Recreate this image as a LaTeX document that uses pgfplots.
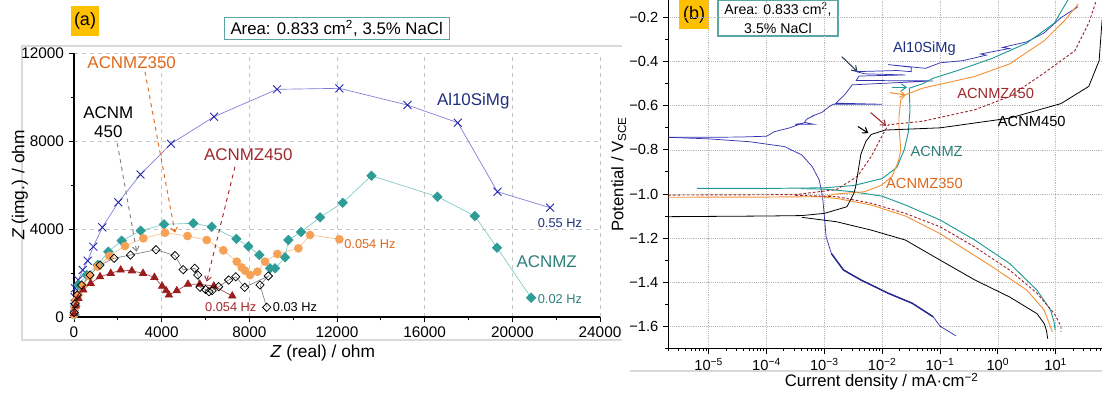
\documentclass[border=0pt]{standalone}
\usepackage{fontspec}
\setmainfont{Liberation Sans}
\usepackage{pgfplots}
\pgfplotsset{compat=1.18}
\usetikzlibrary{arrows.meta}
\definecolor{alblue}{HTML}{2424A8}
\definecolor{alline}{HTML}{7B7BD6}
\definecolor{allab}{HTML}{1E2F80}
\definecolor{tealm}{HTML}{2E9D98}
\definecolor{tealline}{HTML}{7CC9C5}
\definecolor{teallab}{HTML}{2E7F7B}
\definecolor{orm}{HTML}{F5A257}
\definecolor{orline}{HTML}{F7BF8C}
\definecolor{orlab}{HTML}{E0681A}
\definecolor{redm}{HTML}{9A1E1E}
\definecolor{redline}{HTML}{B04848}
\definecolor{redlab}{HTML}{A0282C}
\definecolor{badge}{HTML}{FFC000}
\definecolor{boxteal}{HTML}{5AA6A2}
\definecolor{bblue}{HTML}{3333B0}
\definecolor{bteal}{HTML}{1E9A94}
\definecolor{borange}{HTML}{F39237}
\definecolor{bred}{HTML}{A0282C}
\definecolor{arrowslate}{HTML}{2B3A5B}
\begin{document}
\begin{tikzpicture}
\useasboundingbox (0,0) rectangle (826.5pt,297pt);
% panel frames
\draw[gray!30, line width=0.8pt] (466.5pt,262.5pt) -- (16.5pt,262.5pt) -- (16.5pt,42pt) -- (466.5pt,42pt);
\draw[gray!30, line width=0.8pt] (472.5pt,18.75pt) -- (826.5pt,18.75pt);
% badges and boxes
\node[fill=badge, minimum width=21pt, minimum height=23pt, inner sep=0pt, font=\fontsize{13.5}{14}\selectfont] at (63.75pt,281.25pt) {(a)};
\node[fill=badge, minimum width=22.5pt, minimum height=21.75pt, inner sep=0pt, font=\fontsize{13.5}{14}\selectfont] at (520.5pt,286.1pt) {(b)};
\node[draw=boxteal, line width=0.8pt, minimum width=168.75pt, minimum height=16.5pt, inner sep=0pt, font=\fontsize{12.6}{13}\selectfont] at (252.5pt,275.8pt) {Area: 0.833 cm\textsuperscript{2}, 3.5\% NaCl};
\node[draw=boxteal, fill=white, line width=0.8pt, minimum width=90pt, minimum height=27pt, inner sep=0pt, align=center, font=\fontsize{10.6}{14}\selectfont] at (583.5pt,283.5pt) {Area: 0.833 cm\textsuperscript{2},\\3.5\% NaCl};

% ---------------- panel (a) ----------------
\begin{axis}[
  at={(55.5pt,59.25pt)}, anchor=south west, scale only axis,
  width=394.5pt, height=198pt,
  xmin=0, xmax=24000, ymin=0, ymax=12000,
  axis lines*=left, axis line style={line width=0.8pt, black},
  xtick={0,4000,8000,12000,16000,20000,24000}, ytick={0,4000,8000,12000},
  minor xtick={2000,6000,10000,14000,18000,22000}, minor ytick={2000,6000,10000},
  scaled ticks=false,
  tick align=outside, major tick length=4pt, minor tick length=2.5pt,
  tick style={black, line width=0.7pt},
  grid=major, major grid style={dashed, gray!45, line width=0.4pt},
  ticklabel style={font=\fontsize{11.5}{12}\selectfont},
  /pgf/number format/1000 sep={}, /pgf/number format/assume math mode=true,
  xlabel={\textit{Z} (real) / ohm}, ylabel={\textit{Z} (img.) / ohm},
  every axis x label/.style={at={(rel axis cs:0.473,-0.136)}, anchor=center, font=\fontsize{13}{14}\selectfont},
  every axis y label/.style={at={(rel axis cs:-0.103,0.5)}, rotate=90, anchor=center, font=\fontsize{13}{14}\selectfont},
  clip=false,
]
\addplot[color=alline, line width=0.5pt, mark=x, mark size=4.2pt, mark options={alblue, line width=0.65pt}] coordinates {
(15,450) (30,900) (46,1304) (197,1682) (395,2136) (625,2559) (882,3195) (1293,4077) (2023,5213) (3035,6480) (4427,7877) (6390,9104) (9265,10349) (12109,10394) (15213,9636) (17512,8831) (19320,5695) (21725,4968)};
\addplot[color=tealline, line width=0.5pt, mark=square*, mark size=2.5pt, mark options={rotate=45, fill=tealm, draw=tealm}] coordinates {
(20,100) (60,500) (197,1454) (578,1909) (1080,2364) (1566,2968) (2176,3468) (3043,3922) (4108,4213) (5445,4259) (6284,4100) (7410,3550) (7955,3210) (8459,2818) (8946,2212) (9174,2212) (9630,2712) (9782,3500) (10360,3863) (11227,4531) (12263,5195) (13573,6422) (16581,5468) (18288,4590) (19300,3150) (20857,877)};
\addplot[color=orline, line width=0.5pt, mark=*, mark size=3pt, mark options={fill=orm, draw=orm}] coordinates {
(5,100) (30,400) (100,750) (197,1000) (395,1409) (699,1864) (1080,2288) (1612,2772) (2328,3227) (3164,3577) (4153,3832) (5180,3682) (6056,3500) (6815,3030) (7425,2515) (7650,2250) (7804,2106) (8033,1909) (8366,2060) (8717,2515) (9278,2864) (10237,3122) (10771,3727) (12109,3531)};
\addplot[color=redline, line width=0.5pt, mark=triangle*, mark size=3.2pt, mark options={fill=redm, draw=redm}] coordinates {
(10,150) (80,500) (197,848) (425,1227) (761,1530) (1187,1832) (1676,1985) (2131,2136) (2640,2100) (3150,1985) (3670,1803) (4020,1400) (4200,1200) (4330,1000) (4690,1195) (5200,1490) (5735,1490) (6380,1409) (7220,954)};
\addplot[color=gray, line width=0.5pt, mark=square, mark size=2.2pt, mark options={rotate=45, black, fill=white, line width=0.55pt}] coordinates {
(10,200) (50,600) (150,1000) (350,1450) (730,1909) (1187,2364) (1826,2667) (2574,2818) (3740,3060) (4610,2790) (4980,2150) (5510,2212) (5650,1909) (5751,1350) (6000,1250) (6161,1150) (6300,1200) (6600,1378) (7056,1682) (7380,1832) (7787,1350) (8868,1864) (8489,1454) (8793,440)};
% labels
\node[text=orlab, font=\fontsize{12.7}{13}\selectfont] at (axis cs:2632,11558) {ACNMZ350};
\draw[orlab, dashed, line width=0.7pt, -{Straight Barb[length=3.5pt,width=5pt]}] (axis cs:3239,11149) -- (axis cs:4608,3832);
\node[align=center, font=\fontsize{12.7}{14.3}\selectfont] at (axis cs:1565,8863) {ACNM\\450};
\draw[gray, dashed, line width=0.7pt, -{Straight Barb[length=3.5pt,width=5pt]}] (axis cs:1975,7895) -- (axis cs:2860,2968);
\node[text=redlab, font=\fontsize{12.7}{13}\selectfont] at (axis cs:7952,7363) {ACNMZ450};
\draw[redlab, dashed, line width=0.7pt, -{Straight Barb[length=3.5pt,width=5pt]}] (axis cs:7345,6831) -- (axis cs:6054,1604);
\node[text=allab, font=\fontsize{12.7}{13}\selectfont] at (axis cs:18216,9831) {Al10SiMg};
\node[text=allab, font=\fontsize{9.6}{10}\selectfont] at (axis cs:22171,4259) {0.55 Hz};
\node[text=teallab, font=\fontsize{12.7}{13}\selectfont] at (axis cs:21565,2513) {ACNMZ};
\node[text=teallab, font=\fontsize{9.6}{10}\selectfont] at (axis cs:22171,804) {0.02 Hz};
\node[text=orlab, font=\fontsize{9.6}{10}\selectfont] at (axis cs:13503,3318) {0.054 Hz};
\node[text=redlab, font=\fontsize{9.6}{10}\selectfont] at (axis cs:7153,468) {0.054 Hz};
\node[font=\fontsize{9.6}{10}\selectfont] at (axis cs:10082,441) {0.03 Hz};
\end{axis}

% ---------------- panel (b) ----------------
\begin{axis}[
  at={(501.2pt,35.8pt)}, anchor=south west, scale only axis,
  width=325.3pt, height=261.2pt,
  xmode=log, xmin=2e-6, xmax=63, ymin=-1.70, ymax=-0.12,
  axis lines*=left, axis line style={line width=0.8pt, black},
  xtick={1e-5,1e-4,1e-3,1e-2,1e-1,1,10},
  xticklabels={10\textsuperscript{−5},10\textsuperscript{−4},10\textsuperscript{−3},10\textsuperscript{−2},10\textsuperscript{−1},10\textsuperscript{0},10\textsuperscript{1}},
  minor xtick={2e-6,3e-6,4e-6,5e-6,6e-6,7e-6,8e-6,9e-6,2e-5,3e-5,4e-5,5e-5,6e-5,7e-5,8e-5,9e-5,2e-4,3e-4,4e-4,5e-4,6e-4,7e-4,8e-4,9e-4,2e-3,3e-3,4e-3,5e-3,6e-3,7e-3,8e-3,9e-3,0.02,0.03,0.04,0.05,0.06,0.07,0.08,0.09,0.2,0.3,0.4,0.5,0.6,0.7,0.8,0.9,2,3,4,5,6,7,8,9,20,30,40,50,60},
  ytick={-1.6,-1.4,-1.2,-1.0,-0.8,-0.6,-0.4,-0.2},
  yticklabels={−1.6,−1.4,−1.2,−1.0,−0.8,−0.6,−0.4,−0.2},
  minor ytick={-1.7,-1.5,-1.3,-1.1,-0.9,-0.7,-0.5,-0.3},
  tick align=outside, major tick length=4pt, minor tick length=2.2pt,
  tick style={black, line width=0.7pt},
  grid=major, major grid style={densely dotted, gray!55, line width=0.5pt},
  ticklabel style={font=\fontsize{11}{12}\selectfont},
  xlabel={Current density / mA·cm\textsuperscript{−2}}, ylabel={Potential / V\textsubscript{SCE}},
  every axis x label/.style={at={(rel axis cs:0.492,-0.096)}, anchor=center, font=\fontsize{12.5}{13}\selectfont},
  every axis y label/.style={at={(rel axis cs:-0.114,0.5)}, rotate=90, anchor=center, font=\fontsize{12.5}{13}\selectfont},
]
% Al10SiMg cathodic
\addplot[color=bblue, line width=0.55pt] coordinates {
(2.0e-6,-0.743) (1e-5,-0.75) (5.1e-5,-0.763) (2.04e-4,-0.785) (4.07e-4,-0.823) (6.17e-4,-0.876) (8.13e-4,-0.936) (9.3e-4,-1.012) (1e-3,-1.103) (1.07e-3,-1.194) (1.32e-3,-1.27) (2.14e-3,-1.345) (4.27e-3,-1.39) (0.0126,-1.45) (0.0331,-1.496) (0.0759,-1.557) (0.1,-1.60) (0.186,-1.643)};
\addplot[color=bblue!80!black, line width=1.1pt] coordinates {
(1.32e-3,-1.27) (2.14e-3,-1.345) (4.27e-3,-1.39) (0.0126,-1.45) (0.0331,-1.496) (0.0759,-1.557)};
% Al10SiMg anodic
\addplot[color=bblue, line width=0.55pt] coordinates {
(2.0e-6,-0.743) (3.16e-5,-0.742) (1e-4,-0.738) (1.38e-4,-0.717) (2.51e-4,-0.70) (4.07e-4,-0.68) (3.09e-4,-0.684) (6.6e-4,-0.684) (4.5e-4,-0.675) (5.0e-4,-0.66) (7.08e-4,-0.64) (6.0e-4,-0.648) (9e-4,-0.63) (1.2e-3,-0.605) (1.41e-3,-0.593) (0.01,-0.593) (1.58e-3,-0.588) (2.24e-3,-0.55) (3.02e-3,-0.505) (0.0759,-0.487) (3.55e-3,-0.485) (3.98e-3,-0.465) (0.0251,-0.46) (5.0e-3,-0.455) (3.55e-3,-0.445) (0.0178,-0.44) (0.0316,-0.445) (0.0316,-0.425) (0.0126,-0.413) (0.0562,-0.43) (0.1,-0.405) (0.251,-0.395) (0.631,-0.37) (0.5,-0.365) (1.585,-0.34) (1.2,-0.335) (3.16,-0.31) (6.24,-0.27) (12.3,-0.20) (24.5,-0.15)};
% ACNMZ teal
\addplot[color=bteal, line width=0.7pt] coordinates {
(6.3e-6,-0.975) (1e-4,-0.975) (1e-3,-0.972) (3.16e-3,-0.962) (0.01,-0.93) (0.0178,-0.88) (0.024,-0.80) (0.0282,-0.72) (0.0302,-0.62) (0.0295,-0.55) (0.0295,-0.52) (0.0501,-0.50) (0.0759,-0.475) (0.2,-0.44) (0.794,-0.385) (3.16,-0.315) (9.44,-0.225) (16.2,-0.12)};
\addplot[color=bteal, line width=0.7pt] coordinates {
(3.98e-4,-0.976) (1e-3,-0.978) (3.16e-3,-0.99) (0.01,-1.01) (0.0251,-1.05) (0.1,-1.118) (0.398,-1.209) (1.585,-1.315) (4.73,-1.436) (8.13,-1.527) (9.33,-1.58) (9.77,-1.618)};
% ACNMZ350 orange
\addplot[color=borange, line width=0.7pt] coordinates {
(2.0e-6,-1.015) (1e-4,-1.014) (1e-3,-1.012) (1.58e-3,-1.0) (4.9e-3,-0.99) (9.8e-3,-0.96) (0.0148,-0.92) (0.0191,-0.85) (0.0209,-0.80) (0.0195,-0.70) (0.0195,-0.647) (0.0209,-0.573) (0.0251,-0.55) (0.0501,-0.52) (0.398,-0.467) (1.585,-0.41) (6.31,-0.305) (14.1,-0.214) (24.5,-0.138)};
\addplot[color=borange, line width=0.7pt] coordinates {
(1e-3,-1.015) (1.62e-3,-1.02) (6.46e-3,-1.05) (0.0251,-1.10) (0.1,-1.18) (0.794,-1.33) (3.16,-1.436) (6.31,-1.527) (8.71,-1.626)};
% ACNMZ450 red dashed
\addplot[color=bred, line width=0.7pt, dash pattern=on 2pt off 1.5pt] coordinates {
(2.0e-6,-1.005) (3.16e-4,-1.003) (1.62e-3,-0.98) (3.72e-3,-0.92) (6.46e-3,-0.83) (0.0105,-0.724) (0.0129,-0.686) (0.0501,-0.67) (0.398,-0.618) (1.585,-0.558) (6.31,-0.451) (21.4,-0.35) (37.2,-0.224) (49,-0.13)};
\addplot[color=bred, line width=0.7pt, dash pattern=on 2pt off 1.5pt] coordinates {
(3.16e-4,-1.006) (1.62e-3,-1.012) (6.46e-3,-1.042) (0.0251,-1.088) (0.1,-1.149) (0.398,-1.24) (1.585,-1.345) (4.73,-1.45) (9.44,-1.543) (12.3,-1.60) (12.3,-1.626)};
% ACNM450 black
\addplot[color=black, line width=0.6pt] coordinates {
(2.0e-6,-1.103) (1e-4,-1.10) (4.07e-4,-1.098) (1e-3,-1.088) (2.45e-3,-1.058) (3.24e-3,-0.997) (3.47e-3,-0.967) (4.27e-3,-0.82) (5.25e-3,-0.76) (6.46e-3,-0.73) (0.0112,-0.71) (0.1,-0.70) (1.585,-0.656) (12.3,-0.59) (37.2,-0.512) (56.2,-0.395) (63.1,-0.214) (70.8,-0.15)};
\addplot[color=black, line width=0.6pt] coordinates {
(4.07e-4,-1.106) (1.62e-3,-1.126) (6.46e-3,-1.164) (0.0251,-1.209) (0.1,-1.30) (0.398,-1.39) (1.585,-1.467) (4.73,-1.543) (6.31,-1.588) (6.92,-1.62) (7.24,-1.656)};
% labels
\node[text=allab, font=\fontsize{11}{12}\selectfont] at (axis cs:0.0537,-0.343) {Al10SiMg};
\node[text=redlab, font=\fontsize{11}{12}\selectfont] at (axis cs:0.912,-0.543) {ACNMZ450};
\node[font=\fontsize{11}{12}\selectfont] at (axis cs:3.85,-0.672) {ACNM450};
\node[text=teallab, font=\fontsize{11}{12}\selectfont] at (axis cs:0.0871,-0.808) {ACNMZ};
\node[text=orlab, font=\fontsize{11}{12}\selectfont] at (axis cs:0.0537,-0.951) {ACNMZ350};
\draw[arrowslate, line width=0.8pt, -{Straight Barb[length=3.5pt,width=5pt]}] (axis cs:2.0e-3,-0.377) -- (axis cs:3.72e-3,-0.445);
\draw[bteal, line width=0.8pt, -{Straight Barb[length=3.5pt,width=5pt]}] (axis cs:0.0145,-0.516) -- (axis cs:0.0269,-0.516);
\draw[borange, line width=0.8pt, -{Straight Barb[length=3.5pt,width=5pt]}] (axis cs:0.0135,-0.54) -- (axis cs:0.0251,-0.551);
\draw[bred, line width=0.8pt, -{Straight Barb[length=3.5pt,width=5pt]}] (axis cs:6.31e-3,-0.631) -- (axis cs:0.0117,-0.691);
\draw[black, line width=0.8pt, -{Straight Barb[length=3.5pt,width=5pt]}] (axis cs:3.8e-3,-0.694) -- (axis cs:5.75e-3,-0.724);
\end{axis}
\end{tikzpicture}
\end{document}
